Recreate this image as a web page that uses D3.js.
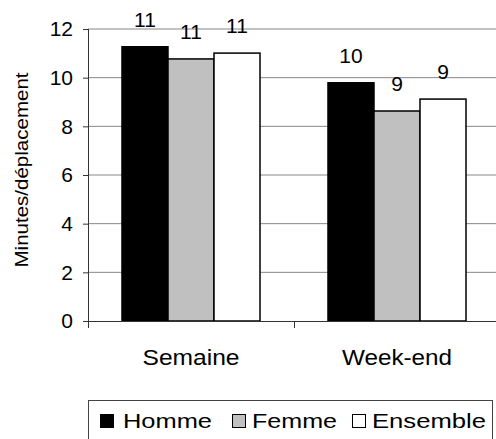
<!DOCTYPE html>
<html><head><meta charset="utf-8">
<script src="https://cdn.jsdelivr.net/npm/d3@7"></script>
<style>body{margin:0;background:#fff;}svg{display:block;font-family:"Liberation Sans",Arial,sans-serif;}</style>
</head><body>
<svg id="c" width="496" height="439"></svg>
<script>
const categories = ["Semaine", "Week-end"];
const seriesNames = ["Homme", "Femme", "Ensemble"];
const homme = [11.27, 9.79];
const femme = [10.77, 8.63];
const ensemble = [11.01, 9.12];
const yTicks = [0, 2, 4, 6, 8, 10, 12];
const colors = ["#000000", "#c0c0c0", "#ffffff"];

const seriesValues = [homme, femme, ensemble];
const svg = d3.select("#c");

const y = d3.scaleLinear().domain([0, 12]).range([321, 29]);
const x0 = d3.scaleBand().domain(categories).range([88, 500]).padding(0);
const bw = x0.bandwidth();
const x1 = d3.scaleBand().domain(seriesNames).range([bw * 0.165, bw * 0.835]).padding(0);

// gridlines
svg.append("g").selectAll("line").data(yTicks.filter(d => d > 0)).join("line")
  .attr("x1", 88).attr("x2", 500)
  .attr("y1", d => y(d)).attr("y2", d => y(d))
  .attr("stroke", "#868686").attr("stroke-width", 1);

// y axis
const yAxis = svg.append("g").attr("transform", "translate(88,0)")
  .call(d3.axisLeft(y).tickValues(yTicks).tickSize(5).tickPadding(10));
yAxis.select(".domain").remove();
yAxis.selectAll(".tick line").attr("stroke", "#333");
yAxis.selectAll("text").attr("font-size", 21).attr("fill", "#000")
  .attr("font-family", "Liberation Sans, Arial, sans-serif");
svg.append("line").attr("x1", 88.5).attr("x2", 88.5).attr("y1", y(12)).attr("y2", 328)
  .attr("stroke", "#333");

// bars
const groups = svg.append("g").selectAll("g").data(categories).join("g")
  .attr("transform", d => `translate(${x0(d)},0)`);
groups.selectAll("rect").data((c, ci) => seriesNames.map((s, si) => ({s, si, v: seriesValues[si][ci]})))
  .join("rect")
  .attr("x", d => x1(d.s)).attr("width", x1.bandwidth())
  .attr("y", d => y(d.v)).attr("height", d => y(0) - y(d.v))
  .attr("fill", d => colors[d.si]).attr("stroke", "#000").attr("stroke-width", 1.5);
groups.selectAll("text.val").data((c, ci) => seriesNames.map((s, si) => ({s, si, v: seriesValues[si][ci]})))
  .join("text").attr("class", "val")
  .attr("x", d => x1(d.s) + x1.bandwidth() / 2).attr("y", d => y(d.v) - 20)
  .attr("text-anchor", "middle").attr("font-size", 21).attr("fill", "#000")
  .text(d => d3.format(".0f")(d.v));

// x axis
const xAxis = svg.append("g").attr("transform", `translate(0,${y(0)})`)
  .call(d3.axisBottom(x0).tickSize(0).tickPadding(28));
xAxis.select(".domain").remove();
xAxis.selectAll("text").attr("font-size", 22).attr("fill", "#000")
  .attr("font-family", "Liberation Sans, Arial, sans-serif")
  .attr("dy", "0.71em")
  .attr("textLength", d => d === "Semaine" ? 97 : 110).attr("lengthAdjust", "spacingAndGlyphs");
svg.append("line").attr("x1", 83).attr("x2", 500).attr("y1", y(0) + 0.5).attr("y2", y(0) + 0.5).attr("stroke", "#333");
svg.append("g").selectAll("line").data(categories).join("line")
  .attr("x1", d => x0(d) + 0.5).attr("x2", d => x0(d) + 0.5)
  .attr("y1", y(0)).attr("y2", 328).attr("stroke", "#333");

// y title
svg.append("text").attr("transform", "translate(28,170) rotate(-90)")
  .attr("text-anchor", "middle").attr("font-size", 18).attr("fill", "#000")
  .attr("textLength", 195).attr("lengthAdjust", "spacingAndGlyphs")
  .text("Minutes/déplacement");

// legend
const lg = svg.append("g");
lg.append("rect").attr("x", 88.5).attr("y", 400.5).attr("width", 404).attr("height", 60)
  .attr("fill", "#fff").attr("stroke", "#444");
const legX = [100, 232, 352];
const legTextX = [123, 252, 372];
const legW = [89, 85, 114];
seriesNames.forEach((s, i) => {
  lg.append("rect").attr("x", legX[i] + 0.5).attr("y", 414.5).attr("width", 13).attr("height", 13)
    .attr("fill", colors[i]).attr("stroke", "#000").attr("stroke-width", 1);
  lg.append("text").attr("x", legTextX[i]).attr("y", 428).attr("font-size", 21).attr("fill", "#000")
    .attr("textLength", legW[i]).attr("lengthAdjust", "spacingAndGlyphs").text(s);
});
</script>
</body></html>
